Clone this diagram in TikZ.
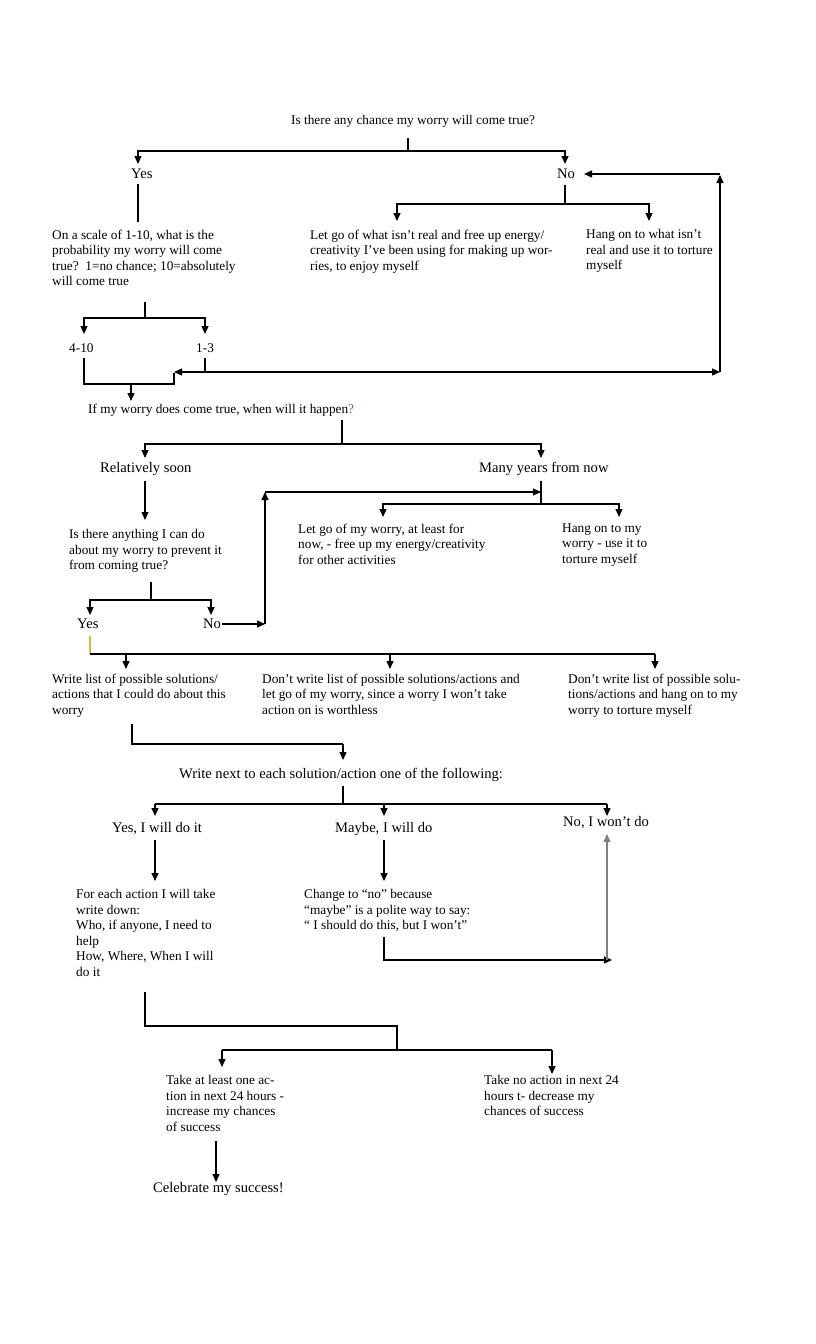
\documentclass[tikz,border=0pt]{standalone}
\usepackage{fontspec}
\setmainfont{Liberation Serif}
\usetikzlibrary{arrows.meta}
\definecolor{qgreen}{HTML}{3C8A3C}
\definecolor{gold}{HTML}{E2B33A}
\definecolor{lgray}{HTML}{808080}
\begin{document}
\begin{tikzpicture}[x=1pt,y=-1pt,
  ln/.style={line width=1.2pt},
  tip/.tip={Triangle[width=7pt,length=8pt]},
  arr/.style={ln,-tip},
  txt/.style={font=\fontsize{13.3}{15.5}\selectfont,align=left,anchor=north west,inner sep=0pt,yshift=-1.5pt},
  lbl/.style={font=\fontsize{14.6}{17}\selectfont,anchor=base west,inner sep=0pt,yshift=-0.8pt},
  sm/.style={font=\fontsize{13.3}{15.5}\selectfont,anchor=base west,inner sep=0pt,yshift=-1pt}]
\useasboundingbox[fill=white] (0,0) rectangle (816,1344);

% ---- nodes ----
\node[sm] (q1) at (291,123) {Is there any chance my worry will come true?};
\node[lbl] (yes1) at (131,177.5) {Yes};
\node[lbl] (no1) at (557,177.5) {No};
\node[txt] (scale) at (52,228) {On a scale of 1-10, what is the\\probability my worry will come\\true?\ \ 1=no chance; 10=absolutely\\will come true};
\node[txt] (letgo1) at (310,228) {Let go of what isn’t real and free up energy/\\creativity I’ve been using for making up wor-\\ries, to enjoy myself};
\node[txt] (hang1) at (586,228) {Hang on to what isn’t\\real and use it to torture\\myself};
\node[sm] (r410) at (69,351) {4-10};
\node[sm] (r13) at (196,351) {1-3};
\node[sm] (q2) at (88,412) {If my worry does come true, when will it happen\textcolor{qgreen}{?}};
\node[lbl] (soon) at (100,472) {Relatively soon};
\node[lbl] (many) at (479,472) {Many years from now};
\node[txt] (q3) at (69,528) {Is there anything I can do\\about my worry to prevent it\\from coming true?};
\node[txt] (letgo2) at (298,522) {Let go of my worry, at least for\\now, - free up my energy/creativity\\for other activities};
\node[txt] (hang2) at (562,522) {Hang on to my\\worry - use it to\\torture myself};
\node[lbl] (yes2) at (77,628) {Yes};
\node[lbl] (no2) at (203,628) {No};
\node[txt] (write) at (52,672) {Write list of possible solutions/\\actions that I could do about this\\worry};
\node[txt] (dont1) at (262,672) {Don’t write list of possible solutions/actions and\\let go of my worry, since a worry I won’t take\\action on is worthless};
\node[txt] (dont2) at (568,672) {Don’t write list of possible solu-\\tions/actions and hang on to my\\worry to torture myself};
\node[lbl] (next) at (179,778) {Write next to each solution/action one of the following:};
\node[lbl] (yesdo) at (112,832) {Yes, I will do it};
\node[lbl] (maybe) at (335,832) {Maybe, I will do};
\node[lbl] (nodo) at (563,826) {No, I won’t do};
\node[txt] (each) at (76,888) {For each action I will take\\write down:\\Who, if anyone, I need to\\help\\How, Where, When I will\\do it};
\node[txt] (change) at (304,888) {Change to “no” because\\“maybe” is a polite way to say:\\“ I should do this, but I won’t”};
\node[txt] (take) at (166,1074) {Take at least one ac-\\tion in next 24 hours -\\increase my chances\\of success};
\node[txt] (takeno) at (484,1074) {Take no action in next 24\\hours t- decrease my\\chances of success};
\node[lbl] (cel) at (153,1192) {Celebrate my success!};

% ---- junction coordinates ----
\coordinate (j1) at (408,151);
\coordinate (j2) at (565,204);
\coordinate (j3) at (145,318);
\coordinate (j4) at (174,372);
\coordinate (j5) at (720,372);
\coordinate (j6) at (720,174);
\coordinate (j7) at (342,444);
\coordinate (j8) at (541,504);
\coordinate (j9) at (265,492);
\coordinate (j10) at (151,600);
\coordinate (j11) at (90,654);
\coordinate (j12) at (343,744);
\coordinate (j13) at (343,804);
\coordinate (j14) at (607,960);
\coordinate (j15) at (397,1050);

% ---- connectors ----
\draw[ln] (408,138) -- (j1);
\draw[arr] (j1) -| (138,164);
\draw[arr] (j1) -| (565,164);
\draw[ln] (138,184) -- (138,222);
\draw[ln] (565,185) -- (j2);
\draw[arr] (j2) -| (397,221);
\draw[arr] (j2) -| (649,221);

\draw[ln] (145,302) -- (j3);
\draw[arr] (j3) -| (84,334);
\draw[arr] (j3) -| (205,334);
\draw[ln] (84,358) |- (174,384) -- (174,373);
\draw[ln] (205,358) -- (205,372);
\draw[ln,tip-tip] (j4) -- (j5);
\draw[arr] (j5) -- (720,175);
\draw[arr] (j6) -- (584,174);
\draw[arr] (131,384) -- (131,401);

\draw[ln] (342,420) -- (j7);
\draw[arr] (j7) -| (145,458);
\draw[arr] (j7) -| (541,458);
\draw[arr] (145,481) -- (145,520);
\draw[ln] (541,481) -- (j8);
\draw[arr] (j8) -| (383,517);
\draw[arr] (j8) -| (619,517);

\draw[ln] (151,582) -- (j10);
\draw[arr] (j10) -| (90,615);
\draw[arr] (j10) -| (211,615);
\draw[arr] (222,624) -- (265,624);
\draw[arr] (265,624) -- (j9);
\draw[arr] (j9) -- (541,492);

\draw[ln,gold] (90,636) -- (j11);
\draw[ln] (j11) -- (655,654);
\draw[arr] (126,654) -- (126,669);
\draw[arr] (390,654) -- (390,669);
\draw[arr] (655,654) -- (655,669);

\draw[ln] (132,724) |- (j12);
\draw[arr] (j12) -- (343,760);
\draw[ln] (343,786) -- (j13);
\draw[ln] (155,804) -- (607,804);
\draw[arr] (155,804) -- (155,816);
\draw[arr] (384,804) -- (384,816);
\draw[arr] (607,804) -- (607,816);
\draw[arr] (155,840) -- (155,881);
\draw[arr] (384,840) -- (384,881);
\draw[arr] (384,937) |- (612,960);
\draw[arr,lgray] (j14) -- (607,834);

\draw[ln] (145,992) |- (397,1026) -- (j15);
\draw[ln] (222,1050) -- (552,1050);
\draw[arr] (222,1050) -- (222,1067);
\draw[arr] (552,1050) -- (552,1074);
\draw[arr] (216,1141) -- (216,1182);
\end{tikzpicture}
\end{document}
